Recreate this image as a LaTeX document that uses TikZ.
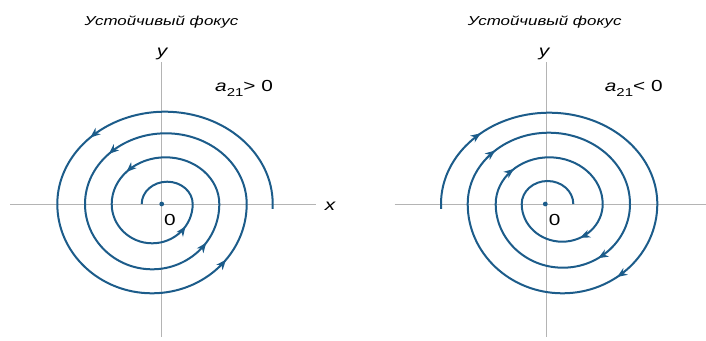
\documentclass[tikz,border=0pt]{standalone}
\usepackage{fontspec}
\setmainfont{Liberation Sans}
\newfontfamily\lab[FakeStretch=1.3]{Liberation Sans}
\usetikzlibrary{arrows.meta,decorations.markings}
\definecolor{spiral}{RGB}{28,92,138}
\definecolor{axisgray}{RGB}{180,180,180}
\newcommand\lowidx[1]{\raisebox{-5pt}{\fontsize{11.5}{11.5}\selectfont #1}}
\begin{document}
\begin{tikzpicture}[x=1pt,y=1pt,
  spir/.style={draw=spiral, line width=2pt},
  axisline/.style={draw=axisgray, line width=0.9pt},
  arr/.style={postaction={decorate}, decoration={markings, mark=at position #1 with {\arrow{Stealth[length=10pt,width=8pt,inset=3pt]}}}},
  lbl/.style={font=\lab\fontsize{16}{16}\selectfont, inner sep=0pt},
  ttl/.style={font=\lab\itshape\fontsize{13}{13}\selectfont, inner sep=0pt}]
\useasboundingbox (0,-340) rectangle (706,0);
% ---------- left panel ----------
\coordinate (lxa) at (10,-204);
\coordinate (lxb) at (316,-204);
\coordinate (lya) at (161.7,-62);
\coordinate (lyb) at (161.7,-337);
\draw[axisline] (lxa) -- (lxb);
\draw[axisline] (lya) -- (lyb);
\node[ttl, anchor=base] (ltitle) at (161.5,-25) {Устойчивый фокус};
\node[lbl, anchor=base] (lylab) at (162,-56.5) {\itshape y};
\node[lbl, anchor=base] (lxlab) at (330,-210) {\itshape x};
\node[lbl, anchor=base] (lzero) at (170,-225) {0};
\node[lbl, anchor=base west] (lcond) at (215,-91.7) {{\itshape a}\lowidx{21}> 0};
\fill[spiral] (161.7,-204) circle (2.4pt);
\draw[spir, arr=0.76] (272.55,-208.83) arc[start angle=-3, end angle=180, x radius=107.7, y radius=92.3];
\draw[spir, arr=0.79] (57.3,-204) arc[start angle=180, end angle=360, x radius=94.7, y radius=89.3];
\draw[spir, arr=0.76] (246.7,-204) arc[start angle=0, end angle=180, x radius=80.85, y radius=70.7];
\draw[spir, arr=0.80] (85,-204) arc[start angle=180, end angle=360, x radius=67.15, y radius=65.3];
\draw[spir, arr=0.77] (219.3,-204) arc[start angle=0, end angle=180, x radius=53.8, y radius=46.7];
\draw[spir, arr=0.81] (111.7,-204) arc[start angle=180, end angle=360, x radius=40.5, y radius=39.3];
\draw[spir] (192.7,-204) arc[start angle=0, end angle=180, x radius=25.5, y radius=22.3];
% ---------- right panel ----------
\coordinate (rxa) at (394.7,-204);
\coordinate (rxb) at (706,-204);
\coordinate (rya) at (546.7,-62);
\coordinate (ryb) at (546.7,-337);
\draw[axisline] (rxa) -- (rxb);
\draw[axisline] (rya) -- (ryb);
\node[ttl, anchor=base] (rtitle) at (544.7,-25) {Устойчивый фокус};
\node[lbl, anchor=base] (rylab) at (544,-56.5) {\itshape y};
\node[lbl, anchor=base] (rzero) at (554.7,-225) {0};
\node[lbl, anchor=base west] (rcond) at (604.7,-91.7) {{\itshape a}\lowidx{21}< 0};
\fill[spiral] (545.3,-204) circle (2.4pt);
\draw[spir, arr=0.28] (441.15,-208.78) arc[start angle=183, end angle=0, x radius=108.15, y radius=91.3];
\draw[spir, arr=0.30] (657.3,-204) arc[start angle=0, end angle=-180, x radius=94.8, y radius=89.3];
\draw[spir, arr=0.26] (467.7,-204) arc[start angle=180, end angle=0, x radius=81.15, y radius=71.3];
\draw[spir, arr=0.32] (630,-204) arc[start angle=0, end angle=-180, x radius=67.15, y radius=63.7];
\draw[spir, arr=0.26] (495.7,-204) arc[start angle=180, end angle=0, x radius=53.5, y radius=46.7];
\draw[spir, arr=0.35] (602.7,-204) arc[start angle=0, end angle=-180, x radius=40.5, y radius=37.7];
\draw[spir] (521.7,-204) arc[start angle=180, end angle=0, x radius=25.8, y radius=23];
\end{tikzpicture}
\end{document}
